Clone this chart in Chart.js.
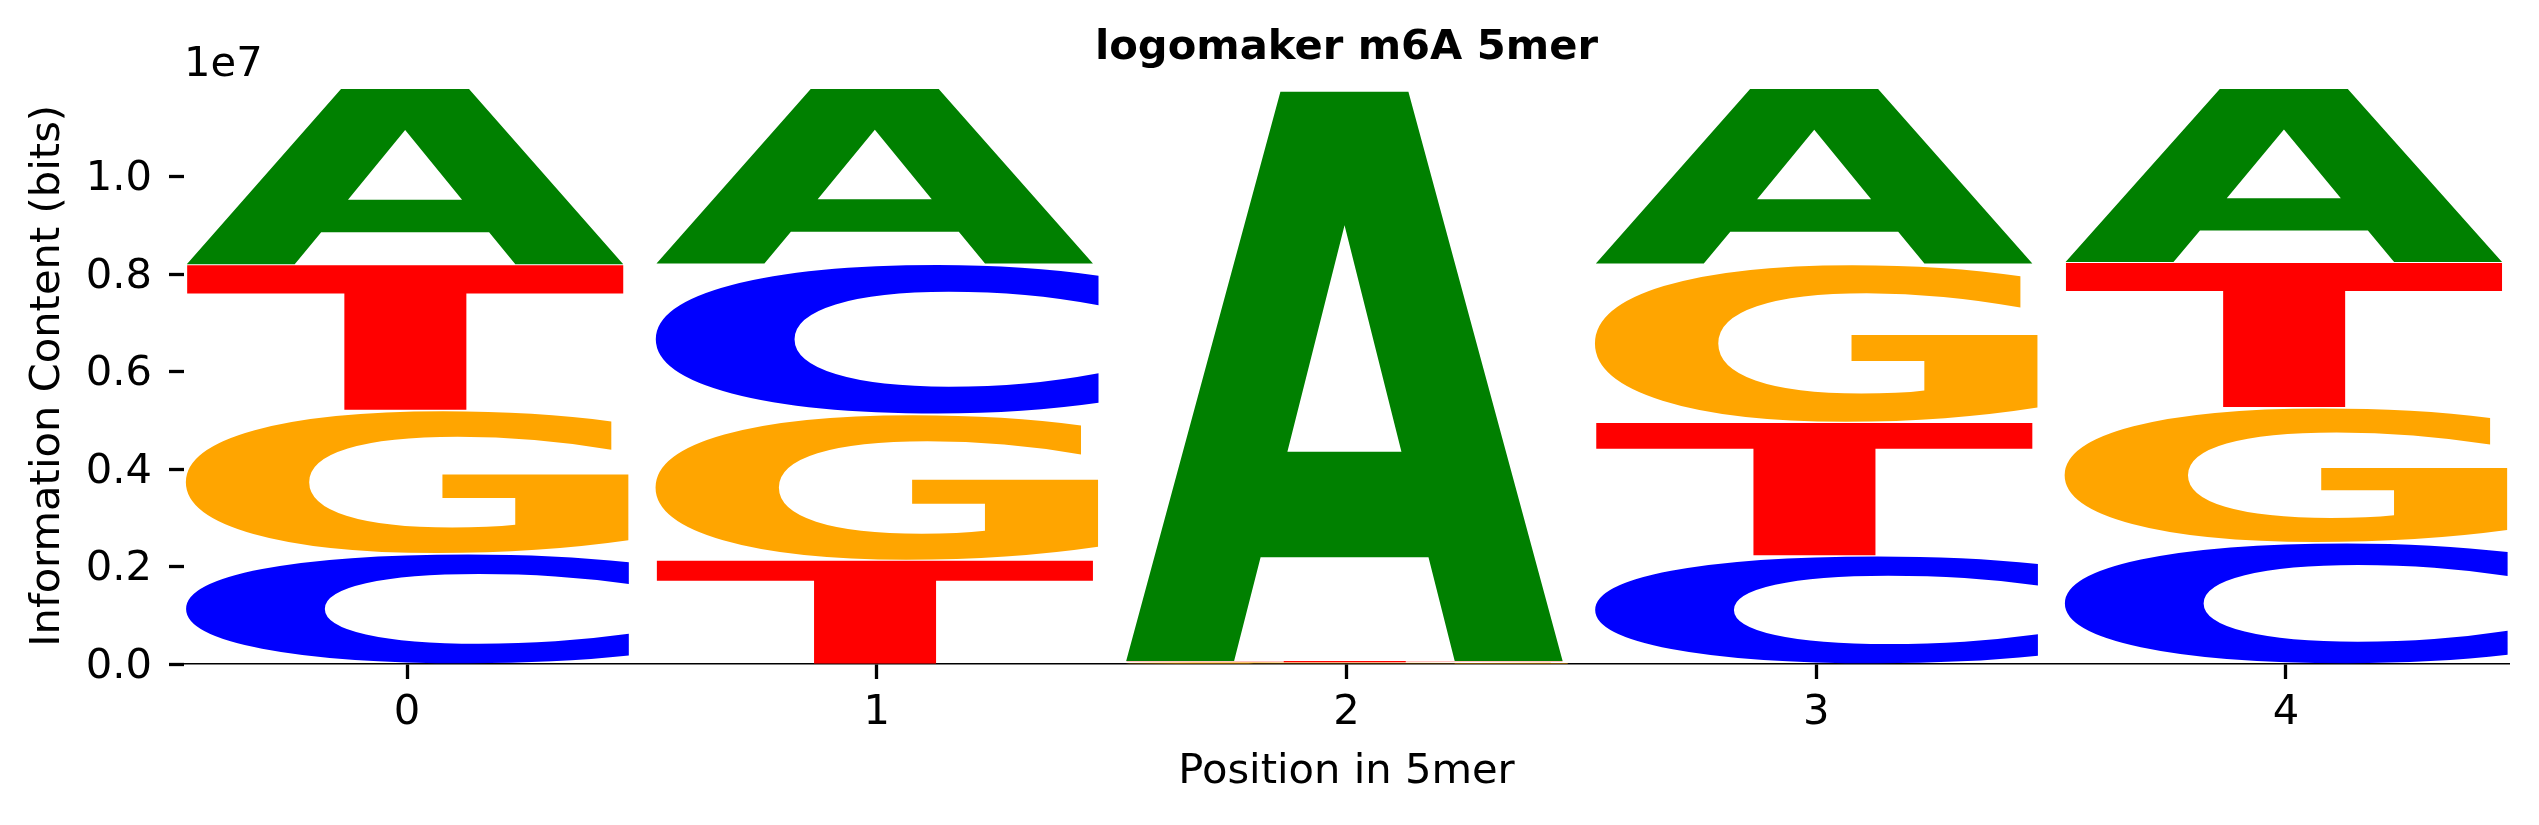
<!DOCTYPE html>
<html><head><meta charset="UTF-8">
<title>logomaker m6A 5mer</title>
<script src="https://cdn.jsdelivr.net/npm/chart.js@4.4.1/dist/chart.umd.min.js"></script>
<style>
  html, body { margin: 0; padding: 0; background: #fff; }
  canvas { display: block; }
</style>
</head>
<body>
<canvas id="logo" width="2539" height="825"></canvas>
<script>
// letter heights per position (counts)
var positions = [0, 1, 2, 3, 4];
var countsA = [3625000, 3609000, 11763000, 3609000, 3577000];
var countsC = [2271000, 3082000, 9000, 2230000, 2498000];
var countsG = [2944000, 3001000, 25000, 3252000, 2774000];
var countsT = [2985000, 2133000, 28000, 2734000, 2976000];
var yTicks = [0, 2000000, 4000000, 6000000, 8000000, 10000000];

var letters = ['A', 'C', 'G', 'T'];
var counts = {A: countsA, C: countsC, G: countsG, T: countsT};
var glyphColors = {A: '#008000', C: '#0000ff', G: '#ffa500', T: '#ff0000'};
var FONT = '"DejaVu Sans"';
var FS = 41.67;

// logomaker stacks smallest letter at the bottom of each column
var ranges = {A: [], C: [], G: [], T: []};
var yMax = 0;
positions.forEach(function(p, i) {
  var order = letters.slice().sort(function(a, b) { return counts[a][i] - counts[b][i]; });
  var base = 0;
  order.forEach(function(l) {
    ranges[l].push({x: p, y: [base, base + counts[l][i]]});
    base += counts[l][i];
  });
  yMax = Math.max(yMax, base);
});

function drawGlyph(ctx, ch, color, left, top, w, h) {
  ctx.save();
  ctx.font = 'bold 400px ' + FONT;
  ctx.textAlign = 'left';
  ctx.textBaseline = 'alphabetic';
  var m = ctx.measureText(ch);
  var gw = m.actualBoundingBoxLeft + m.actualBoundingBoxRight;
  var gh = m.actualBoundingBoxAscent + m.actualBoundingBoxDescent;
  ctx.translate(left, top);
  ctx.scale(w / gw, h / gh);
  ctx.fillStyle = color;
  ctx.fillText(ch, m.actualBoundingBoxLeft, m.actualBoundingBoxAscent);
  ctx.restore();
}

// paint each letter into the rectangle of its (invisible) bar
var glyphPlugin = {
  id: 'glyphs',
  afterDatasetsDraw: function(chart) {
    var ctx = chart.ctx;
    chart.data.datasets.forEach(function(ds, i) {
      chart.getDatasetMeta(i).data.forEach(function(bar) {
        var p = bar.getProps(['x', 'y', 'base', 'width'], true);
        var h = Math.abs(p.base - p.y);
        if (h <= 0) return;
        drawGlyph(ctx, ds.label, glyphColors[ds.label], p.x - p.width / 2, Math.min(p.y, p.base), p.width, h);
      });
    });
  },
  afterDraw: function(chart) {
    // matplotlib style offset text above the y axis
    var ctx = chart.ctx;
    ctx.save();
    ctx.font = FS + 'px ' + FONT;
    ctx.fillStyle = '#000';
    ctx.textAlign = 'left';
    ctx.textBaseline = 'alphabetic';
    ctx.fillText('1e7', chart.chartArea.left, 76);
    ctx.restore();
  }
};

new Chart(document.getElementById('logo'), {
  type: 'bar',
  data: {
    datasets: letters.map(function(l) {
      return {
        label: l,
        data: ranges[l],
        backgroundColor: 'rgba(0,0,0,0)',
        borderWidth: 0,
        grouped: false,
        barPercentage: 1.0,
        categoryPercentage: 0.95
      };
    })
  },
  options: {
    responsive: false,
    animation: false,
    devicePixelRatio: 1,
    layout: { padding: { left: 0, right: 30, top: 0, bottom: 0 } },
    plugins: {
      legend: { display: false },
      tooltip: { enabled: false },
      title: {
        display: true,
        text: 'logomaker m6A 5mer',
        fullSize: false,
        color: '#000',
        font: { family: FONT, size: FS, weight: 'bold', lineHeight: 1.2 },
        padding: { top: 23.2, bottom: 14.4 }
      }
    },
    scales: {
      x: {
        type: 'linear',
        min: -0.475,
        max: 4.475,
        offset: false,
        afterBuildTicks: function(scale) {
          scale.ticks = positions.map(function(v) { return {value: v}; });
        },
        afterFit: function(scale) { scale.height = 161; },
        border: { display: true, color: '#000', width: 1.5 },
        grid: { offset: false, drawOnChartArea: false, drawTicks: true, tickLength: 15, tickWidth: 3.3, tickColor: '#000' },
        ticks: {
          color: '#000',
          padding: 9,
          font: { family: FONT, size: FS },
          callback: function(v) { return String(v); }
        },
        title: {
          display: true,
          text: 'Position in 5mer',
          color: '#000',
          font: { family: FONT, size: FS, lineHeight: 1.2 },
          padding: { top: 0, bottom: 27.4 }
        }
      },
      y: {
        type: 'linear',
        min: 0,
        max: yMax,
        afterBuildTicks: function(scale) {
          scale.ticks = yTicks.map(function(v) { return {value: v}; });
        },
        afterFit: function(scale) { scale.width = 184; },
        border: { display: false },
        grid: { drawOnChartArea: false, drawTicks: true, tickLength: 15, tickWidth: 3.3, tickColor: '#000' },
        ticks: {
          color: '#000',
          padding: 17,
          labelOffset: 3,
          font: { family: FONT, size: FS },
          callback: function(v) { return (v / 1e7).toFixed(1); }
        },
        title: {
          display: true,
          text: 'Information Content (bits)',
          color: '#000',
          font: { family: FONT, size: FS, lineHeight: 1.2 },
          padding: { top: 23.6, bottom: 0 }
        }
      }
    }
  },
  plugins: [glyphPlugin]
});
</script>
</body></html>
